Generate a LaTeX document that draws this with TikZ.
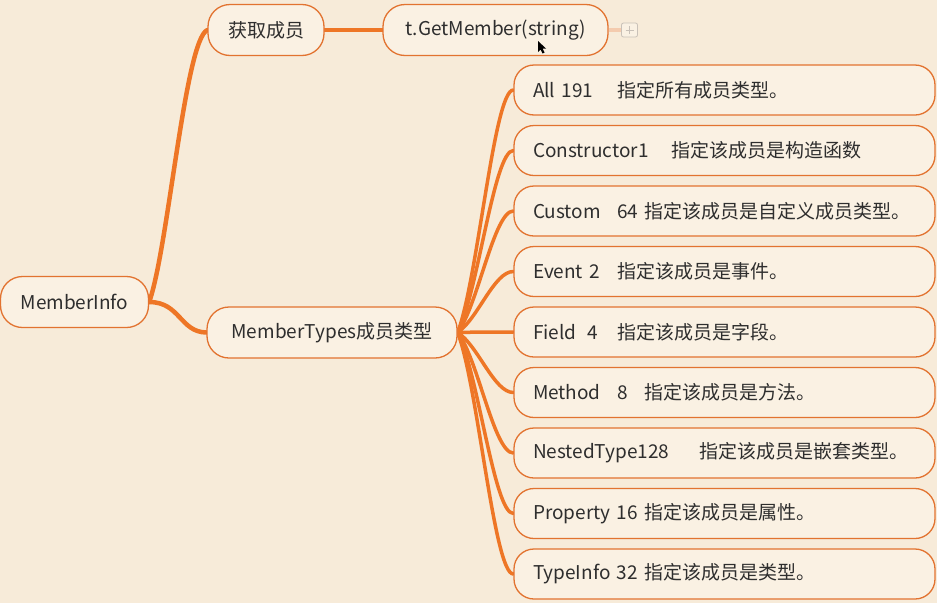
\documentclass[tikz,border=0pt]{standalone}
\usepackage{fontspec}
\setmainfont{Noto Sans CJK SC}
\usetikzlibrary{calc}
\definecolor{bgc}{HTML}{F7EBD9}
\definecolor{nodefill}{HTML}{FAF1E3}
\definecolor{edgec}{HTML}{EE7626}
\definecolor{bord}{HTML}{E27330}
\definecolor{txt}{HTML}{2E2E2E}
\definecolor{faint}{HTML}{F4CBAE}
\definecolor{iconc}{HTML}{C9C1B8}
\pgfdeclarelayer{bg}
\pgfdeclarelayer{conn}
\pgfsetlayers{bg,conn,main}
\newcommand\lab[2]{\makebox[#1][l]{#2}}
\tikzset{
  topic/.style={draw=bord, line width=1.3pt, fill=nodefill, rounded corners=22pt,
    text=txt, font=\fontsize{19}{21}\selectfont, inner sep=0pt, minimum height=51pt},
  leaf/.style={topic, text width=383pt, align=left, inner xsep=19pt, minimum height=50pt,
    rounded corners=20pt},
  link/.style={draw=edgec, line width=4.5pt, line cap=round},
  twig/.style={draw=edgec, line width=3.5pt, line cap=round},
}
\begin{document}
\begin{tikzpicture}[x=1pt,y=-1pt]
\begin{pgfonlayer}{bg}
  \fill[bgc] (0,0) rectangle (937,603);
\end{pgfonlayer}
\useasboundingbox (0,0) rectangle (937,603);

\node[topic, minimum width=148pt] (info) at (74.5,302) {MemberInfo};
\node[topic, minimum width=116pt] (get) at (266,30) {获取成员};
\node[topic, minimum width=225pt] (gm) at (495.5,30) {t.GetMember(string)};
\node[topic, minimum width=250pt] (mt) at (332,332.5) {MemberTypes成员类型};

\node[leaf] (l1) at (724.5,90) {\lab{85pt}{All 191}指定所有成员类型。};
\node[leaf] (l2) at (724.5,150.5) {\lab{139pt}{Constructor1}指定该成员是构造函数};
\node[leaf] (l3) at (724.5,211) {\lab{84pt}{Custom}\lab{27pt}{64}指定该成员是自定义成员类型。};
\node[leaf] (l4) at (724.5,271.5) {\lab{84pt}{Event 2}指定该成员是事件。};
\node[leaf] (l5) at (724.5,332) {\lab{55pt}{Field}\lab{29pt}{4}指定该成员是字段。};
\node[leaf] (l6) at (724.5,392.5) {\lab{84pt}{Method}\lab{27pt}{8}指定该成员是方法。};
\node[leaf] (l7) at (724.5,453) {\lab{167pt}{NestedType128}指定该成员是嵌套类型。};
\node[leaf] (l8) at (724.5,513.5) {\lab{111pt}{Property 16}指定该成员是属性。};
\node[leaf] (l9) at (724.5,574) {\lab{111pt}{TypeInfo 32}指定该成员是类型。};

% collapse icon
\node[draw=iconc, line width=0.8pt, fill=nodefill, rounded corners=2pt,
  minimum width=16pt, minimum height=14pt, inner sep=0pt] (plus) at (629.5,30) {};
\draw[iconc, line width=0.8pt] ($(plus.center)+(-4,0)$) -- ($(plus.center)+(4,0)$)
  ($(plus.center)+(0,-4)$) -- ($(plus.center)+(0,4)$);

% mouse cursor
\fill[black] (538,41) -- (538,52) -- (540.5,49.5) -- (542.5,53.5) -- (544.5,52.5) -- (542.5,48.5) -- (546,48.5) -- cycle;

\begin{pgfonlayer}{conn}
  \draw[link] (info.east) .. controls (168,250) and (185,40) .. (get.west);
  \draw[link] (info.east) .. controls (180,302) and (180,332) .. (mt.west);
  \draw[link] (get.east) -- (gm.west);
  \draw[draw=faint, line width=4pt] (gm.east) -- (plus.west);
  \foreach \i/\y in {1/90,2/150.5,3/211,4/271.5,5/332,6/392.5,7/453,8/513.5,9/574}{
    \pgfmathsetmacro\cy{332+0.22*(\y-332)}
    \draw[twig] (mt.east) .. controls (478,\cy) and (494,\y) .. (l\i.west);
  }
\end{pgfonlayer}
\end{tikzpicture}
\end{document}
